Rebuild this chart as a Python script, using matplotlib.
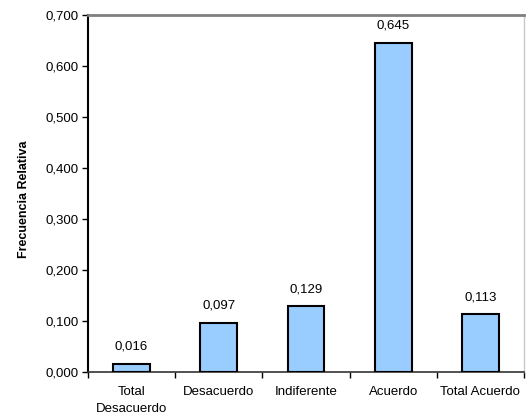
import matplotlib
matplotlib.use("Agg")
import matplotlib.pyplot as plt
import numpy as np

categories = ["Total\nDesacuerdo", "Desacuerdo", "Indiferente", "Acuerdo", "Total Acuerdo"]
values = [0.016, 0.097, 0.129, 0.645, 0.113]
yticks = [0.0, 0.1, 0.2, 0.3, 0.4, 0.5, 0.6, 0.7]

plt.rcParams['font.family'] = ['Liberation Sans', 'DejaVu Sans']

fig = plt.figure(figsize=(5.30, 4.16), dpi=100)
ax = fig.add_axes([88/530, 1-372/416, (524-88)/530, (372-15)/416])

x = np.arange(len(categories))
bars = ax.bar(x, values, width=0.42, color="#99CCFF", edgecolor="black", linewidth=1.5, zorder=3)

for xi, v in zip(x, values):
    ax.annotate(f"{v:.3f}".replace(".", ","), (xi, v), xytext=(0, 8), textcoords="offset points",
                ha="center", va="bottom", fontsize=9.5)

ax.set_xlim(-0.5, len(categories) - 0.5)
ax.set_ylim(0, 0.7)
ax.set_yticks(yticks)
ax.set_yticklabels([f"{t:.3f}".replace(".", ",") for t in yticks], fontsize=9.5)
ax.set_xticks(x)
ax.set_xticklabels(categories, fontsize=9.5, linespacing=1.55, va="top")
ax.set_xticks(np.arange(len(categories) + 1) - 0.5, minor=True)
ax.tick_params(axis="x", which="major", length=0, pad=10)
ax.tick_params(axis="x", which="minor", length=4, width=1, direction="out")
ax.tick_params(axis="y", length=4, width=1, direction="out", pad=3)

ax.spines["left"].set_linewidth(1.5)
ax.spines["left"].set_color("black")
ax.spines["bottom"].set_linewidth(1.2)
ax.spines["bottom"].set_color("#333333")
ax.spines["top"].set_linewidth(2)
ax.spines["top"].set_color("#808080")
ax.spines["right"].set_linewidth(1)
ax.spines["right"].set_color("#C8C8C8")

ax.set_ylabel("Frecuencia Relativa", fontsize=9, fontweight="bold")
ax.yaxis.set_label_coords((30 - 88) / 436, 0.485)

fig.savefig("out.png", dpi=100)
